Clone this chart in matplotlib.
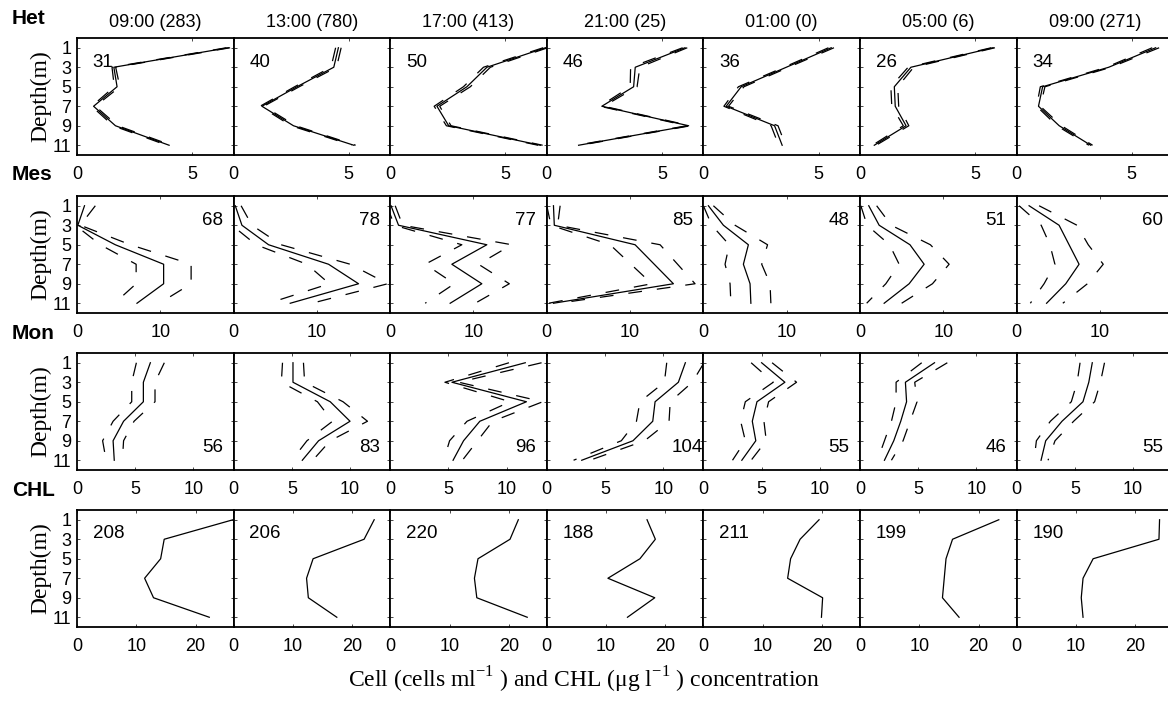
import matplotlib
matplotlib.use("Agg")
import numpy as np
import matplotlib.pyplot as plt

plt.rcParams["font.family"] = ["Liberation Sans", "DejaVu Sans"]
plt.rcParams["mathtext.fontset"] = "custom"
plt.rcParams["mathtext.rm"] = "Liberation Serif"
plt.rcParams["axes.unicode_minus"] = False

depths = [1, 3, 5, 7, 9, 11]
times = ["09:00 (283)", "13:00 (780)", "17:00 (413)", "21:00 (25)",
         "01:00 (0)", "05:00 (6)", "09:00 (271)"]
rows = ["Het", "Mes", "Mon", "CHL"]

# heterotrophic cells, mean and se per time (depth 1..11)
het_mean = [
    [6.57, 1.60, 1.74, 0.72, 1.67, 4.00],
    [4.55, 4.35, 2.75, 1.23, 2.60, 5.22],
    [6.74, 4.20, 3.33, 2.03, 2.54, 6.52],
    [6.00, 3.84, 3.77, 2.39, 6.16, 1.38],
    [5.55, 3.60, 1.64, 0.99, 3.09, 3.42],
    [5.78, 2.21, 1.49, 1.53, 2.00, 0.62],
    [6.04, 4.00, 1.13, 0.95, 1.85, 3.22],
]
het_se = [
    [0.08, 0.08, 0.12, 0.08, 0.10, 0.10],
    [0.12, 0.12, 0.10, 0.08, 0.10, 0.08],
    [0.10, 0.15, 0.15, 0.12, 0.10, 0.10],
    [0.10, 0.20, 0.15, 0.08, 0.08, 0.08],
    [0.12, 0.10, 0.12, 0.10, 0.15, 0.15],
    [0.08, 0.12, 0.15, 0.15, 0.12, 0.08],
    [0.15, 0.10, 0.10, 0.08, 0.10, 0.08],
]
mes_mean = [
    [0.9, 0.1, 4.6, 10.4, 10.4, 7.2],
    [0.2, 1.0, 4.2, 11.4, 15.0, 6.8],
    [0.1, 1.0, 11.6, 7.4, 11.0, 7.2],
    [0.8, 0.9, 10.6, 12.9, 15.2, 0.8],
    [0.6, 2.4, 5.4, 4.8, 5.6, 5.7],
    [1.05, 2.3, 6.0, 7.7, 5.9, 2.9],
    [1.5, 5.1, 6.3, 7.5, 5.9, 3.6],
]
mes_se = [
    [1.3, 0.3, 1.8, 3.3, 3.3, 2.7],
    [0.7, 1.2, 1.5, 2.6, 3.5, 2.6],
    [0.5, 0.5, 3.0, 3.2, 3.3, 3.0],
    [0.8, 0.4, 3.0, 2.8, 2.6, 0.6],
    [0.6, 1.4, 2.3, 2.2, 2.4, 2.4],
    [0.95, 1.45, 2.45, 3.0, 2.8, 2.1],
    [1.2, 2.15, 2.3, 2.9, 2.6, 1.95],
]
mon_mean = [
    [6.3, 5.7, 5.7, 4.0, 3.1, 3.2],
    [5.1, 5.1, 8.3, 10.0, 7.3, 5.9],
    [11.6, 5.3, 11.7, 7.7, 6.3, 5.4],
    [11.9, 11.3, 9.3, 9.1, 7.4, 3.0],
    [5.0, 7.0, 4.6, 4.2, 4.5, 3.3],
    [6.4, 3.9, 4.0, 3.5, 2.9, 2.1],
    [6.5, 6.2, 5.7, 3.9, 2.5, 2.1],
]
mon_se = [
    [1.2, 1.0, 1.0, 0.9, 0.9, 0.7],
    [0.9, 1.0, 1.1, 1.5, 1.0, 0.9],
    [1.4, 0.6, 1.4, 1.1, 1.2, 0.8],
    [1.6, 1.2, 1.3, 1.4, 1.0, 0.7],
    [0.9, 1.0, 1.0, 1.0, 0.9, 0.8],
    [1.1, 0.8, 0.9, 0.8, 0.8, 0.6],
    [1.05, 1.0, 1.0, 1.0, 0.8, 0.6],
]
chl = [
    [26.3, 14.7, 14.1, 11.4, 12.9, 22.3],
    [23.7, 22.0, 13.4, 12.3, 12.6, 17.4],
    [21.6, 20.2, 14.8, 14.2, 14.6, 23.1],
    [16.9, 18.3, 15.7, 10.3, 18.2, 13.6],
    [19.5, 16.3, 14.7, 14.2, 20.1, 19.9],
    [23.4, 15.6, 14.5, 14.2, 13.9, 16.7],
    [24.1, 24.0, 12.9, 11.2, 10.9, 11.2],
]
n_het = [31, 40, 50, 46, 36, 26, 34]
n_mes = [68, 78, 77, 85, 48, 51, 60]
n_mon = [56, 83, 96, 104, 55, 46, 55]
n_chl = [208, 206, 220, 188, 211, 199, 190]

xmax = [6.8, 18.8, 13.45, 26.4]
xticks = [[0, 5], [0, 10], [0, 5, 10], [0, 10, 20]]
# where the sample count goes in each row (axes fraction)
n_pos = [(0.10, 0.79), (0.80, 0.79), (0.80, 0.19), (0.10, 0.80)]
row_n = [n_het, n_mes, n_mon, n_chl]
row_mean = [het_mean, mes_mean, mon_mean, chl]
row_se = [het_se, mes_se, mon_se, None]

fig = plt.figure(figsize=(11.68, 7.11), dpi=100)
left0 = 77 / 1168
pw = 156.6 / 1168
ph = 117 / 711
bottoms = [1 - 155 / 711, 1 - 313 / 711, 1 - 470 / 711, 1 - 627 / 711]
dash = (0, (11, 12))

for r in range(4):
    for c in range(7):
        ax = fig.add_axes([left0 + c * pw, bottoms[r], pw, ph])
        m = np.array(row_mean[r][c])
        ax.plot(m, depths, color="black", lw=0.9)
        if row_se[r] is not None:
            s = np.array(row_se[r][c])
            ax.plot(m - s, depths, color="black", lw=0.9, linestyle=dash)
            ax.plot(m + s, depths, color="black", lw=0.9, linestyle=dash)
        ax.set_xlim(0, xmax[r])
        ax.set_ylim(12, 0)
        ax.set_xticks(xticks[r])
        ax.set_yticks(depths)
        ax.tick_params(direction="in", top=True, right=True, length=2.5,
                       width=0.5, labelsize=13, pad=8)
        ax.tick_params(axis="y", pad=4)
        for sp in ax.spines.values():
            sp.set_linewidth(1.3)
        if c > 0:
            ax.set_yticklabels([])
        else:
            ax.set_ylabel("Depth(m)", family="Liberation Serif", fontsize=17,
                          labelpad=1)
        ax.text(n_pos[r][0], n_pos[r][1], str(row_n[r][c]), transform=ax.transAxes,
                fontsize=13.5, ha="left", va="center")
        if r == 0:
            ax.set_title(times[c], fontsize=13, pad=8)

row_label_y = [18, 175, 333, 490]
for r in range(4):
    fig.text(12 / 1168, 1 - row_label_y[r] / 711, rows[r], fontsize=15,
             fontweight="bold", ha="left", va="center")

fig.text(0.5, 1 - 680 / 711,
         "Cell (cells ml$^{\\mathregular{-1}}$ ) and CHL (\u03bcg l$^{\\mathregular{-1}}$ ) concentration",
         family="Liberation Serif", fontsize=17, ha="center", va="center")

fig.savefig("out.png", dpi=100)
